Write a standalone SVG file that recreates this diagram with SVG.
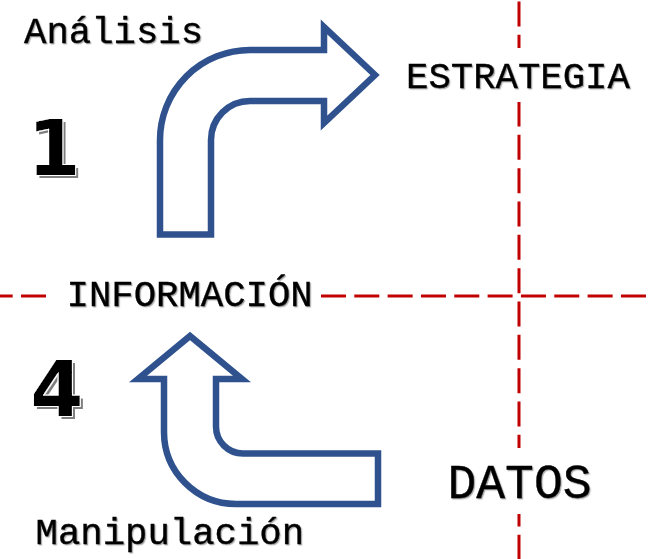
<svg xmlns="http://www.w3.org/2000/svg" width="654" height="559" viewBox="0 0 654 559">
<style>
.lbl{font-family:"Liberation Mono","DejaVu Sans Mono",monospace;font-size:37.3px;fill:#000;stroke:#000;stroke-width:0.35}
.big{font-family:"DejaVu Sans","Liberation Sans",sans-serif;font-weight:bold;font-size:76px;fill:#000}
.arrow{fill:#fff;stroke:#2F528F;stroke-width:6.5;stroke-linejoin:miter}
.grid{stroke:#C00000;stroke-width:3;stroke-dasharray:25 8.33;fill:none}
.bg{fill:#fff}
</style>
<defs>
<filter id="sh1" x="-5%" y="-20%" width="110%" height="140%">
<feDropShadow dx="1.2" dy="1.2" stdDeviation="0.7" flood-color="#000" flood-opacity="0.35"/>
</filter>
<filter id="sh2" x="-20%" y="-20%" width="150%" height="150%">
<feOffset in="SourceAlpha" dx="3" dy="3" result="o"/>
<feGaussianBlur in="o" stdDeviation="0.6" result="b"/>
<feFlood flood-color="#7f7f7f"/>
<feComposite in2="b" operator="in" result="g"/>
<feMorphology in="SourceAlpha" operator="dilate" radius="1.2" result="d"/>
<feFlood flood-color="#fff"/>
<feComposite in2="d" operator="in" result="w"/>
<feMerge><feMergeNode in="g"/><feMergeNode in="w"/><feMergeNode in="SourceGraphic"/></feMerge>
</filter>
</defs>
<rect width="654" height="559" fill="#fff"/>
<g id="connectors">
<line class="grid" x1="-12.33" y1="296" x2="654" y2="296"/>
<line class="grid" x1="519" y1="1.5" x2="519" y2="559"/>
<path id="arrow-analisis" class="arrow" d="M160,234.5 L160,140 A90,90 0 0 1 250,50 L324,50 L324,27 L375,75 L324,123 L324,101 L250,101 A39,39 0 0 0 211,140 L211,234.5 Z"/>
<path id="arrow-manipulacion" class="arrow" d="M378,453.5 L243,453.5 A27,27 0 0 1 216,426.5 L216,379 L242,379 L190,336 L138,379 L164,379 L164,432 A72,72 0 0 0 236,504 L378,504 Z"/>
</g>
<g id="node-analisis">
<text class="lbl" x="24" y="42.7" filter="url(#sh1)">Análisis</text>
</g>
<g id="node-estrategia">
<rect class="bg" x="400" y="48" width="240" height="54"/>
<text class="lbl" x="406" y="88.3" filter="url(#sh1)">ESTRATEGIA</text>
</g>
<g id="node-informacion">
<rect class="bg" x="50" y="270" width="270" height="50"/>
<text class="lbl" x="66.5" y="305.7" filter="url(#sh1)">INFORMACIÓN</text>
</g>
<g id="node-datos">
<rect class="bg" x="436" y="448" width="166" height="66"/>
<text class="lbl" x="447.5" y="497.7" style="font-size:48px" filter="url(#sh1)">DATOS</text>
</g>
<g id="node-manipulacion">
<text class="lbl" x="35.5" y="544" filter="url(#sh1)">Manipulación</text>
</g>
<g id="node-1">
<text class="big" x="54" y="175" text-anchor="middle" filter="url(#sh2)">1</text>
</g>
<g id="node-4">
<text class="big" x="57" y="416" text-anchor="middle" filter="url(#sh2)">4</text>
</g>
</svg>
